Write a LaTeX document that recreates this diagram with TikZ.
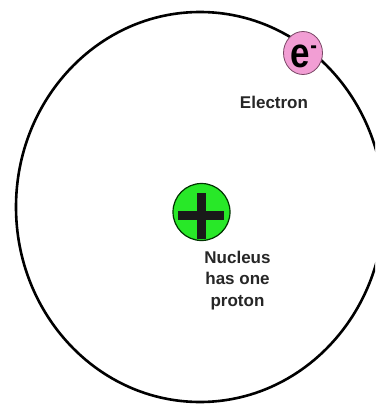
\documentclass[tikz,border=0pt]{standalone}
\usepackage{fontspec}
\setmainfont{Liberation Sans}
\usetikzlibrary{shapes.geometric}
\definecolor{nucgreen}{RGB}{40,232,40}
\definecolor{elpink}{RGB}{242,158,212}
\definecolor{elrim}{RGB}{120,70,100}
\begin{document}
\begin{tikzpicture}[x=1pt,y=-1pt,
  label text/.style={font=\bfseries\fontsize{17}{21.5}\selectfont, align=center, inner sep=0pt, text=black!85},
  orbit/.style={line width=2.6pt, black}]
\useasboundingbox (0,0) rectangle (375,404);
\fill[white] (0,0) rectangle (375,404);
\begin{scope}
\clip (0,0) rectangle (375,404);
\draw[orbit] (200,207) ellipse [x radius=184pt, y radius=195pt];
\end{scope}
% nucleus
\node[circle, minimum size=57pt, inner sep=0pt, fill=nucgreen, draw=black!80!green, line width=1.2pt] (nuc) at (201.5,212) {};
\fill[black!90] (178,210.5) rectangle (224,219.5);
\fill[black!90] (196.5,193) rectangle (205.5,239);
\node[label text, anchor=base] (nuctext) at (237.5,306) {Nucleus\\has one\\proton};
% electron
\node[ellipse, minimum width=39pt, minimum height=43pt, inner sep=0pt, fill=elpink, draw=elrim, line width=0.8pt] (el) at (303,53) {};
\node[inner sep=0pt] (etext) at (304,56) {\scalebox{1}[1.2]{\bfseries\fontsize{35}{35}\selectfont e\raisebox{0.33em}{\fontsize{20}{20}\selectfont -}}};
\node[label text, anchor=base] (eltext) at (274,108) {Electron};
\end{tikzpicture}
\end{document}
